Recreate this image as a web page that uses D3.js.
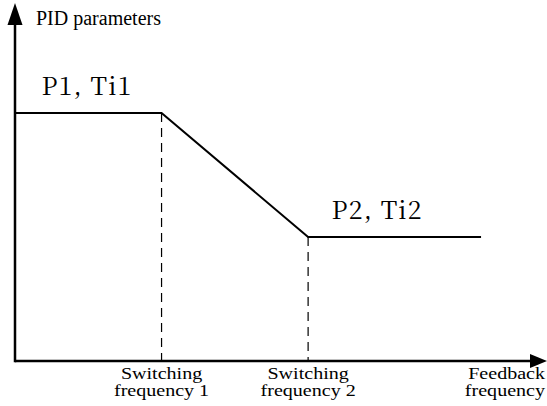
<!DOCTYPE html>
<html>
<head>
<meta charset="utf-8">
<script src="https://cdn.jsdelivr.net/npm/d3@7"></script>
<style>
  html, body { margin: 0; padding: 0; background: #fff; }
  svg { display: block; }
  text { font-family: "Liberation Serif", "Times New Roman", serif; fill: #000; }
  text.seg { font-family: "Noto Serif CJK SC", "Liberation Serif", serif; }
</style>
</head>
<body>
<script>
// ---- data ----
const xPoints = [0, 1, 2, 3.18];          // feedback frequency (relative units)
const yValues = [1, 1, 0.5, 0.5];          // PID parameters (relative)
const switchPoints = [1, 2];               // switching frequencies
const switchLabels = [["Switching", "frequency 1"], ["Switching", "frequency 2"]];
const axisXLabel = ["Feedback", "frequency"];
const axisYLabel = "PID parameters";
const segLabels = ["P1, Ti1", "P2, Ti2"];
const segLabelAnchors = [[0.18, 1], [2.16, 0.5]];

const W = 547, H = 406;
const svg = d3.select("body").append("svg").attr("width", W).attr("height", H);

const x = d3.scaleLinear().domain([0, 3.63]).range([15, 547]);
const y = d3.scaleLinear().domain([0, 1]).range([361, 113]);

// axes
svg.append("line").attr("x1", x(0)).attr("x2", 532).attr("y1", y(0)).attr("y2", y(0))
  .attr("stroke", "#000").attr("stroke-width", 2.5);
svg.append("line").attr("x1", x(0)).attr("x2", x(0)).attr("y1", y(0) + 1.2).attr("y2", 22)
  .attr("stroke", "#000").attr("stroke-width", 2.5);
// arrowheads
svg.append("path").attr("d", `M547,${y(0)} L530,${y(0) - 7} L530,${y(0) + 7} Z`).attr("fill", "#000");
svg.append("path").attr("d", `M${x(0)},3 L${x(0) - 7.5},25 L${x(0) + 7.5},25 Z`).attr("fill", "#000");

// dashed guides
svg.selectAll(".guide").data(switchPoints).enter().append("line")
  .attr("x1", d => x(d)).attr("x2", d => x(d))
  .attr("y1", (d) => y(yValues[xPoints.indexOf(d)])).attr("y2", y(0))
  .attr("stroke", "#000").attr("stroke-width", 1.2).attr("stroke-dasharray", "9,6");

// main line
const line = d3.line().x((d, i) => x(xPoints[i])).y(d => y(d));
svg.append("path").attr("d", line(yValues)).attr("fill", "none")
  .attr("stroke", "#000").attr("stroke-width", 2);

// segment labels
svg.selectAll(".seg").data(segLabels).enter().append("text")
  .attr("class", "seg")
  .attr("x", (d, i) => x(segLabelAnchors[i][0]))
  .attr("y", (d, i) => y(segLabelAnchors[i][1]) - 18)
  .attr("font-size", 25)
  .attr("textLength", 90).attr("lengthAdjust", "spacing")
  .text(d => d);

// y axis label
svg.append("text").attr("x", 36).attr("y", 25)
  .attr("font-size", 20).text(axisYLabel);

// x labels (horizontally widened like the reference)
function xLabel(lines, px, anchor) {
  lines.forEach((t, j) => {
    svg.append("g").attr("transform", `translate(${px},${379 + j * 17}) scale(1.18,1)`)
      .append("text").attr("text-anchor", anchor)
      .attr("font-size", 17).text(t);
  });
}
switchPoints.forEach((p, i) => xLabel(switchLabels[i], x(p), "middle"));
xLabel(axisXLabel, 545, "end");
</script>
</body>
</html>
